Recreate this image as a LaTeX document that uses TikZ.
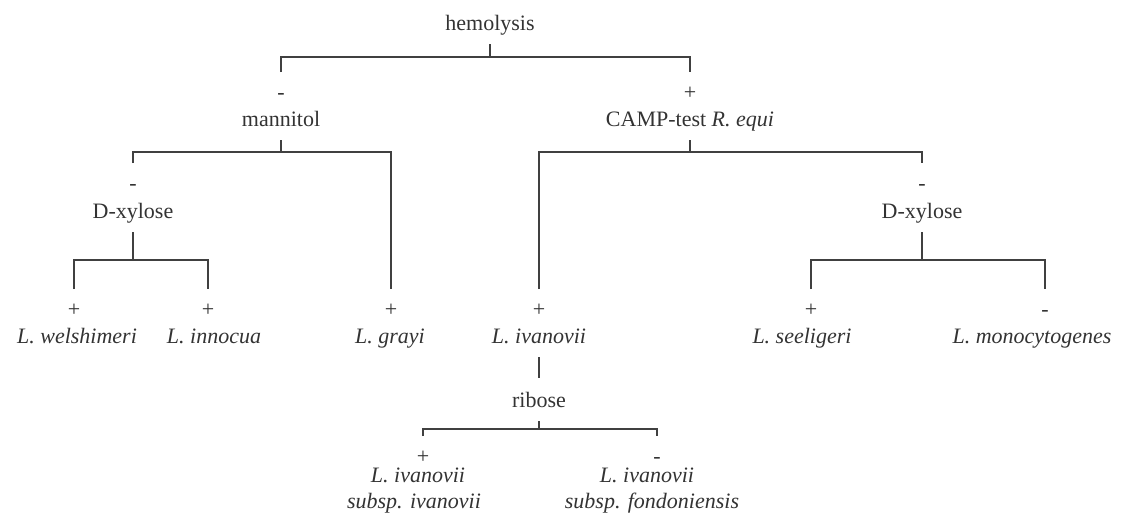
\documentclass[tikz,border=0pt]{standalone}
\usepackage{fontspec}
\setmainfont{Liberation Serif}
\begin{document}
\begin{tikzpicture}[x=0.5pt, y=-0.5pt, black!80,
    test/.style={font=\fontsize{11}{13}\selectfont, anchor=base, inner sep=0pt, text height=7.5pt, text depth=0pt, outer ysep=7pt},
    species/.style={test, font=\fontsize{11}{13}\selectfont\itshape},
    sign/.style={font=\fontsize{11}{13}\selectfont, anchor=base, inner sep=0pt, text height=8pt, text depth=0pt, outer ysep=5.5pt},
    link/.style={draw=black!75, line width=0.6pt}]
    \useasboundingbox (0, 0) rectangle (1131, 521);

    % Hemolysis
    \node[test] (hemo) at (490, 30) {hemolysis};
    \coordinate (hemo-j) at (490, 57);
    \node[sign] (s-mann) at (281, 99) {-};
    \node[sign] (s-camp) at (690, 99) {+};
    \node[test] (mann) at (281, 126) {mannitol};
    \node[test] (camp) at (690, 126) {CAMP-test \textit{R. equi}};
    \draw[link] (hemo) -- (hemo-j);
    \draw[link] (s-mann) |- (hemo-j) -| (s-camp);

    % Mannitol branch
    \coordinate (mann-j) at (281, 152);
    \node[sign] (s-xyl1) at (133, 190) {-};
    \node[test] (xyl1) at (133, 218) {D-xylose};
    \node[sign] (s-grayi) at (391, 316) {+};
    \draw[link] (mann) -- (mann-j);
    \draw[link] (s-xyl1) |- (mann-j) -| (s-grayi);

    \coordinate (xyl1-j) at (133, 260);
    \node[sign] (s-welsh) at (74, 316) {+};
    \node[sign] (s-innoc) at (208, 316) {+};
    \draw[link] (xyl1) -- (xyl1-j);
    \draw[link] (s-welsh) |- (xyl1-j) -| (s-innoc);

    % CAMP-test branch
    \coordinate (camp-j) at (690, 152);
    \node[sign] (s-ivan) at (539, 316) {+};
    \node[sign] (s-xyl2) at (922, 190) {-};
    \node[test] (xyl2) at (922, 218) {D-xylose};
    \draw[link] (camp) -- (camp-j);
    \draw[link] (s-ivan) |- (camp-j) -| (s-xyl2);

    \coordinate (xyl2-j) at (922, 260);
    \node[sign] (s-seel) at (811, 316) {+};
    \node[sign] (s-mono) at (1045, 316) {-};
    \draw[link] (xyl2) -- (xyl2-j);
    \draw[link] (s-seel) |- (xyl2-j) -| (s-mono);

    % Species
    \node[species] (welsh) at (77, 343) {L. welshimeri};
    \node[species] (innoc) at (214, 343) {L. innocua};
    \node[species] (grayi) at (390, 343) {L. grayi};
    \node[species] (ivan) at (539, 343) {L. ivanovii};
    \node[species] (seel) at (802, 343) {L. seeligeri};
    \node[species] (mono) at (1032, 343) {L. monocytogenes};

    % Ribose
    \node[test] (ribose) at (539, 407) {ribose};
    \coordinate (ribose-j) at (539, 429);
    \node[sign] (s-ivsub) at (423, 463) {+};
    \node[sign] (s-fond) at (657, 463) {-};
    \draw[link] (ivan) -- (ribose);
    \draw[link] (ribose) -- (ribose-j);
    \draw[link] (s-ivsub) |- (ribose-j) -| (s-fond);

    \node[species] (ivsub) at (418, 482) {L. ivanovii};
    \node[species] (ivsub-b) at (414, 508) {subsp. ivanovii};
    \node[species] (fond) at (647, 482) {L. ivanovii};
    \node[species] (fond-b) at (652, 508) {subsp. fondoniensis};
\end{tikzpicture}
\end{document}
